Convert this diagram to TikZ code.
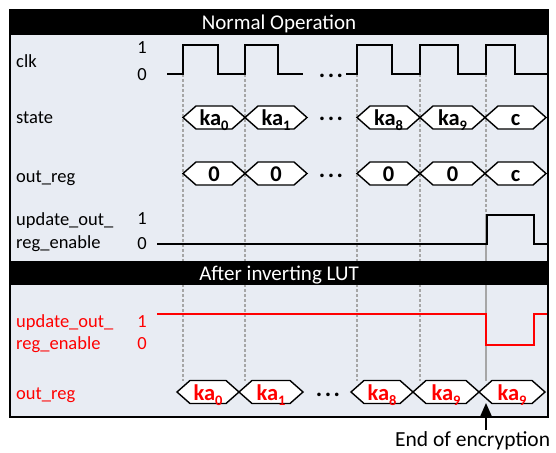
\documentclass[tikz,border=0pt]{standalone}
\usepackage{fontspec}
\setmainfont{Carlito}
\usetikzlibrary{arrows.meta}
\definecolor{bgc}{HTML}{E8ECF3}
\definecolor{sigred}{HTML}{FF0000}
\definecolor{gridc}{HTML}{A6A6A6}
\tikzset{
 lbl/.style={anchor=base west, inner sep=0pt, font=\fontsize{18.5}{20}\selectfont},
 lvl/.style={anchor=base, inner sep=0pt, font=\fontsize{18.5}{20}\selectfont},
 hdr/.style={anchor=base, text=white, inner sep=0pt, font=\fontsize{21}{23}\selectfont},
 sig/.style={line width=2.5pt, line join=miter},
 hexbox/.style={draw=black, fill=white, line width=1.4pt, line join=miter},
 hextext/.style={anchor=base, inner sep=0pt, font=\bfseries\fontsize{22.5}{24}\selectfont},
 gridl/.style={draw=gridc, line width=1.3pt, dash pattern=on 3pt off 2pt},
 gridsolid/.style={draw=gridc, line width=1.3pt},
 dotsn/.style={anchor=base, inner sep=0pt, font=\bfseries\fontsize{24}{24}\selectfont},
}
\newcommand\hexa[6]{%
 \draw[hexbox] (#2,#4) -- ({#2+13},{#4-11.5}) -- ({#3-13},{#4-11.5}) -- (#3,#4) -- ({#3-13},{#4+11.5}) -- ({#2+13},{#4+11.5}) -- cycle;
 \node[hextext, text=#6] (#1) at ({(#2+#3)/2},{#4+8}) {#5};
}
\newcommand\ksub[1]{ka\raisebox{-5pt}{\fontsize{14.5}{14.5}\selectfont #1}}
\newcommand\threedots{.\hspace{2.5pt}.\hspace{2.5pt}.}
\begin{document}
\begin{tikzpicture}[x=1pt,y=-1pt]
\useasboundingbox (0,0) rectangle (556,452);
% background
\fill[bgc] (10,10) rectangle (548,417);
% grid lines
\foreach \gx in {183,245,357,420}{
  \draw[gridl] (\gx,74) -- (\gx,381);
}
\draw[gridl] (486,74) -- (486,214);
\draw[gridsolid] (486,214) -- (486,381);
% headers
\fill[black] (10,10) rectangle (548,35);
\fill[black] (10,261) rectangle (548,285);
\node[hdr] (h1) at (279,30) {Normal Operation};
\node[hdr] (h2) at (279,280) {After inverting LUT};
% labels
\node[lbl] (lclk) at (16,67) {clk};
\node[lbl] (lstate) at (16,123) {state};
\node[lbl] (lout) at (16,182) {out\_reg};
\node[lbl] (lup1) at (16,225) {update\_out\_};
\node[lbl] (lup2) at (16,248) {reg\_enable};
\node[lbl, text=sigred] (rup1) at (16,327) {update\_out\_};
\node[lbl, text=sigred] (rup2) at (16,349) {reg\_enable};
\node[lbl, text=sigred] (rout) at (16,399) {out\_reg};
\node[lvl] (c1) at (142,53) {1};
\node[lvl] (c0) at (142,80) {0};
\node[lvl] (u1) at (142,224) {1};
\node[lvl] (u0) at (142,249) {0};
\node[lvl, text=sigred] (r1) at (142,327) {1};
\node[lvl, text=sigred] (r0) at (142,349) {0};
% clock
\draw[sig] (167,74) -- (183,74) -- (183,45) -- (218,45) -- (218,74) -- (245,74) -- (245,45) -- (278,45) -- (278,74) -- (303,74);
\draw[sig] (346,74) -- (357,74) -- (357,45) -- (392,45) -- (392,74) -- (420,74) -- (420,45) -- (458,45) -- (458,74) -- (486,74) -- (486,45) -- (515,45) -- (515,74) -- (547,74);
\node[dotsn] (d1) at (331,77) {\threedots};
% state
\hexa{s0}{183}{245}{117.5}{\ksub{0}}{black}
\hexa{s1}{245}{307}{117.5}{\ksub{1}}{black}
\node[dotsn] (d2) at (331,120) {\threedots};
\hexa{s8}{357}{420}{117.5}{\ksub{8}}{black}
\hexa{s9}{420}{485}{117.5}{\ksub{9}}{black}
\hexa{sc}{485}{546}{117.5}{c}{black}
% out_reg
\hexa{o0}{183}{245}{173.5}{0}{black}
\hexa{o1}{245}{307}{173.5}{0}{black}
\node[dotsn] (d3) at (331,177) {\threedots};
\hexa{o8}{357}{420}{173.5}{0}{black}
\hexa{o9}{420}{485}{173.5}{0}{black}
\hexa{oc}{485}{546}{173.5}{c}{black}
% update enable
\draw[sig] (157,244) -- (487,244) -- (487,215) -- (534,215) -- (534,244) -- (547,244);
\draw[sig, sigred] (157,314) -- (486,314) -- (486,345) -- (534,345) -- (534,314) -- (547,314);
% bottom out_reg
\hexa{b0}{177}{239}{392}{\ksub{0}}{sigred}
\hexa{b1}{239}{303}{392}{\ksub{1}}{sigred}
\node[dotsn] (d4) at (328,396) {\threedots};
\hexa{b8}{351}{413}{392}{\ksub{8}}{sigred}
\hexa{b9}{413}{479}{392}{\ksub{9}}{sigred}
\hexa{bc}{479}{545}{392}{\ksub{9}}{sigred}
% frame
\draw[line width=1.8pt] (10,10) rectangle (548,417);
% arrow
\coordinate (arrT) at (486,430);
\coordinate (arrH) at (486,403);
\draw[line width=1.6pt, -{Triangle[length=13pt,width=11pt]}] (arrT) -- (arrH);
\node[anchor=base west, inner sep=0pt, font=\fontsize{21.5}{23}\selectfont] (endenc) at (395,446) {End of encryption};
\end{tikzpicture}
\end{document}
